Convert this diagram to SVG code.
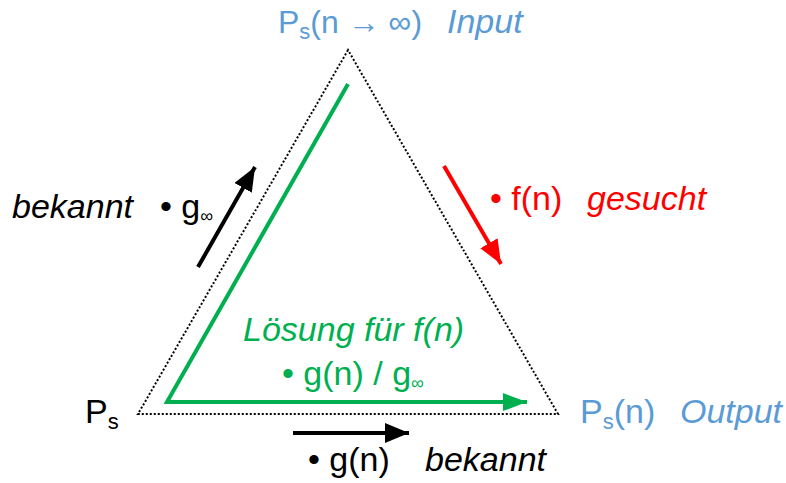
<svg xmlns="http://www.w3.org/2000/svg" width="786" height="483" viewBox="0 0 786 483">
<defs>
<style>
text{font-family:"Liberation Sans",Arial,sans-serif;font-size:34px}
.it{font-style:italic}
.blue{fill:#5B9BD5}
.red{fill:#FF0000}
.green{fill:#00B050}
.blk{fill:#000}
.sub{font-size:22px}
.inf{font-size:18px}
.t32{font-size:32px}
</style>
<marker id="ab" markerUnits="userSpaceOnUse" markerWidth="26" markerHeight="22" refX="24" refY="10" orient="auto"><path d="M0,0 L24,10 L0,20 z" fill="#000"/></marker>
<marker id="ar" markerUnits="userSpaceOnUse" markerWidth="26" markerHeight="22" refX="24" refY="10" orient="auto"><path d="M0,0 L24,10 L0,20 z" fill="#FF0000"/></marker>
<marker id="ag" markerUnits="userSpaceOnUse" markerWidth="26" markerHeight="22" refX="24" refY="9" orient="auto"><path d="M0,0 L24,9 L0,18 z" fill="#00B050"/></marker>
</defs>
<rect width="786" height="483" fill="#fff"/>
<g id="triangle">
<path d="M348,50 L138,414 L558,414 Z" fill="none" stroke="#000" stroke-width="2" stroke-dasharray="2 2"/>
</g>
<g id="connectors" fill="none" stroke-width="4">
<path d="M348,84 L167,402 L527,402" stroke="#00B050" marker-end="url(#ag)"/>
<line x1="198" y1="267" x2="255" y2="167" stroke="#000" marker-end="url(#ab)"/>
<line x1="444" y1="166" x2="501" y2="264" stroke="#FF0000" marker-end="url(#ar)"/>
<line x1="293" y1="433" x2="409" y2="433" stroke="#000" marker-end="url(#ab)"/>
</g>
<g id="input">
<text x="278" y="33" class="blue t32">P<tspan class="sub" dy="6">s</tspan><tspan dy="-6">(n → ∞)</tspan></text>
<text x="447" y="33" class="blue it">Input</text>
</g>
<g id="left-label">
<text x="12" y="218" class="blk it">bekannt</text>
<text x="160" y="218" class="blk">• g<tspan class="inf" dy="4">∞</tspan></text>
</g>
<g id="right-label">
<text x="490" y="210" class="red">• f(n)</text>
<text x="587" y="210" class="red it">gesucht</text>
</g>
<g id="center-label">
<text x="243" y="341" class="green it">Lösung für f(n)</text>
<text x="282" y="385" class="green">• g(n) / g<tspan class="inf" dy="4">∞</tspan></text>
</g>
<g id="ps-node">
<text x="85" y="423" class="blk">P<tspan class="sub" dy="6">s</tspan></text>
</g>
<g id="output">
<text x="580" y="423" class="blue">P<tspan class="sub" dy="6">s</tspan><tspan dy="-6">(n)</tspan></text>
<text x="680" y="423" class="blue it">Output</text>
</g>
<g id="bottom-label">
<text x="308" y="471" class="blk">• g(n)</text>
<text x="425" y="471" class="blk it">bekannt</text>
</g>
</svg>
